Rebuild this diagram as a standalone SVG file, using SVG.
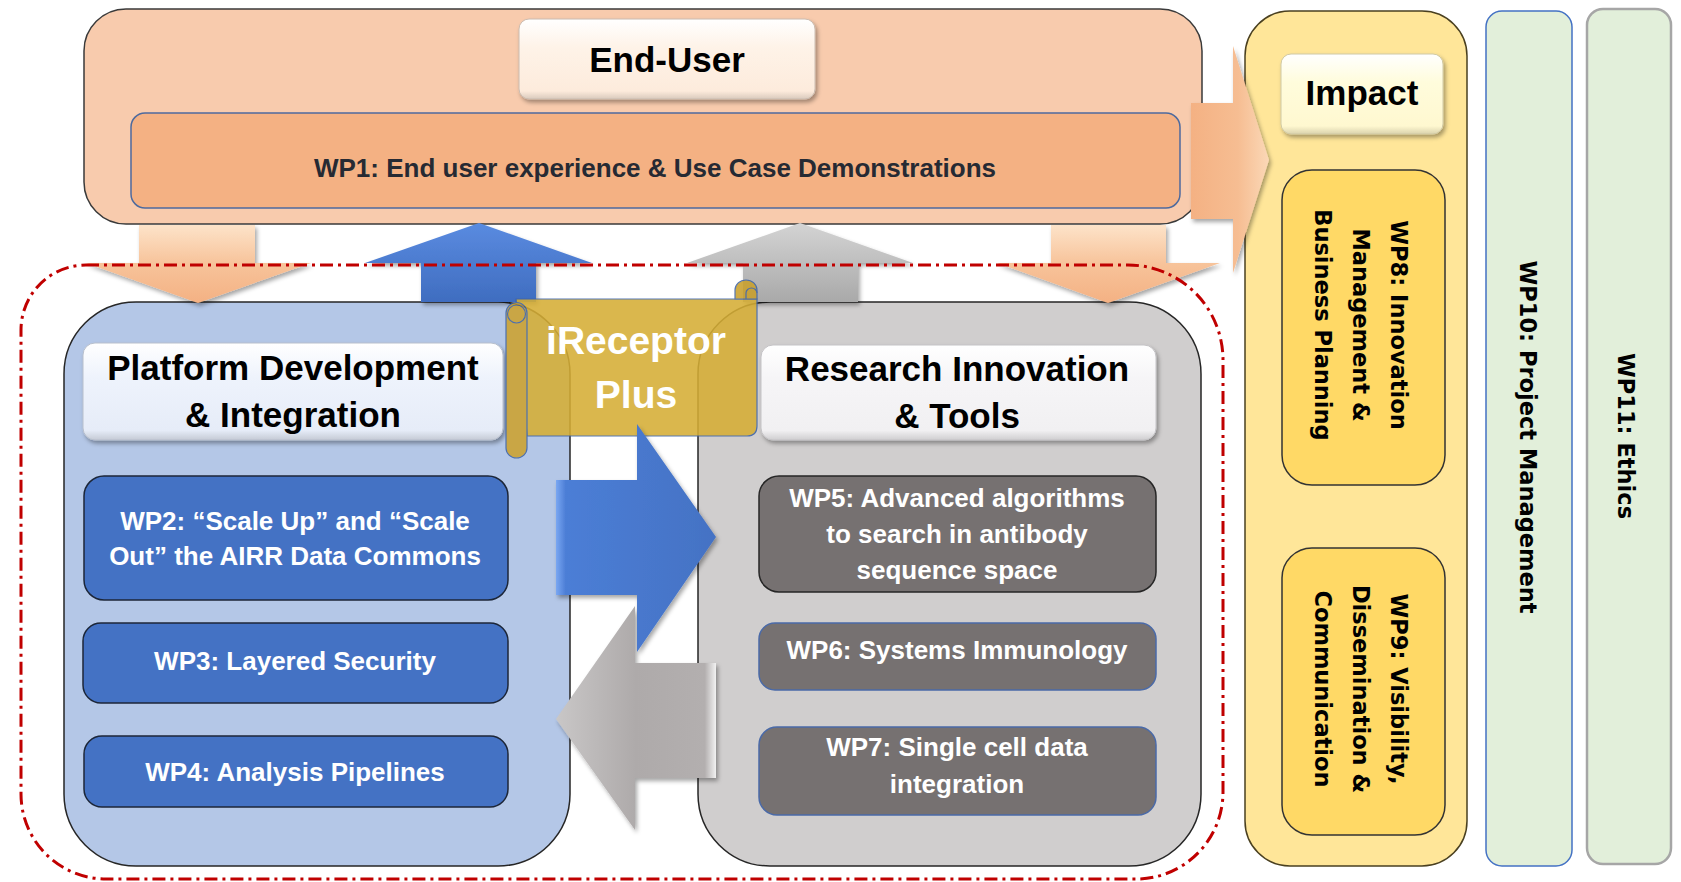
<svg xmlns="http://www.w3.org/2000/svg" width="1681" height="882" viewBox="0 0 1681 882">
<style>
.h{font-family:"Liberation Sans",Arial,sans-serif;font-weight:bold;text-anchor:middle}
.lbl{font-size:35px;fill:#000}
.wp{font-size:26px;fill:#fff}
.v{font-family:"DejaVu Sans",Verdana,sans-serif;font-weight:bold;font-size:22.5px;text-anchor:middle;fill:#000}
.big{stroke:#262626;stroke-width:1.5}
.blue{fill:#4472C4;stroke:#1c2638;stroke-width:1.5}
.gray{fill:#767171;stroke-width:1.5}
.col{fill:#E2EFDA}
.wp89{fill:#FFD966;stroke:#333;stroke-width:1.5}
</style>
<defs>
<filter id="sh" x="-10%" y="-10%" width="125%" height="140%"><feDropShadow dx="2" dy="3" stdDeviation="2" flood-color="#000" flood-opacity="0.35"/></filter>
<linearGradient id="gEU" x1="0" y1="0" x2="0" y2="1"><stop offset="0" stop-color="#ffffff"/><stop offset="0.35" stop-color="#FEF3E8"/><stop offset="0.9" stop-color="#FDEBDC"/><stop offset="1" stop-color="#D9CABD"/></linearGradient>
<linearGradient id="gIM" x1="0" y1="0" x2="0" y2="1"><stop offset="0" stop-color="#ffffff"/><stop offset="0.35" stop-color="#FFFCDC"/><stop offset="0.9" stop-color="#FFF8D0"/><stop offset="1" stop-color="#DAD3AE"/></linearGradient>
<linearGradient id="gPL" x1="0" y1="0" x2="0" y2="1"><stop offset="0" stop-color="#ffffff"/><stop offset="0.35" stop-color="#EEF3FC"/><stop offset="0.9" stop-color="#E6ECF8"/><stop offset="1" stop-color="#C5CAD5"/></linearGradient>
<linearGradient id="gRS" x1="0" y1="0" x2="0" y2="1"><stop offset="0" stop-color="#ffffff"/><stop offset="0.35" stop-color="#F6F5F7"/><stop offset="0.9" stop-color="#F1F0F2"/><stop offset="1" stop-color="#CFCED0"/></linearGradient>
<linearGradient id="gOrV" x1="0" y1="0" x2="0" y2="1"><stop offset="0" stop-color="#FDE3C9"/><stop offset="0.5" stop-color="#F7C39A"/><stop offset="1" stop-color="#F4B183"/></linearGradient>
<linearGradient id="gOrH" x1="0" y1="0" x2="1" y2="0"><stop offset="0" stop-color="#F4B183"/><stop offset="0.6" stop-color="#F6BD92"/><stop offset="1" stop-color="#FBD8B7"/></linearGradient>
<linearGradient id="gBlU" x1="0" y1="0" x2="0" y2="1"><stop offset="0" stop-color="#5A8BE0"/><stop offset="1" stop-color="#3F6DC0"/></linearGradient>
<linearGradient id="gGrU" x1="0" y1="0" x2="0" y2="1"><stop offset="0" stop-color="#D4D4D4"/><stop offset="1" stop-color="#A9A9A9"/></linearGradient>
<linearGradient id="gBlR" x1="0" y1="0" x2="1" y2="0"><stop offset="0" stop-color="#7AA7F2"/><stop offset="0.06" stop-color="#4C7ED6"/><stop offset="1" stop-color="#4472C4"/></linearGradient>
<linearGradient id="gGrL" x1="0" y1="0" x2="1" y2="0"><stop offset="0" stop-color="#C9C7C7"/><stop offset="0.5" stop-color="#AEAAAA"/><stop offset="0.93" stop-color="#B3AFAF"/><stop offset="1" stop-color="#F2F2F2"/></linearGradient>
</defs>

<!-- right columns -->
<g id="impact-panel">
<rect x="1245" y="11" width="222" height="855" rx="45" fill="#FFE699" stroke="#4a4020" stroke-width="1.5"/>
</g>
<g id="wp10">
<rect class="col" x="1486" y="11" width="86" height="855" rx="16" stroke="#4472C4" stroke-width="1.5"/>
<text class="v" transform="translate(1520,437) rotate(90)">WP10: Project Management</text>
</g>
<g id="wp11">
<rect class="col" x="1587" y="9" width="84" height="855" rx="16" stroke="#A6A6A6" stroke-width="2.5"/>
<text class="v" transform="translate(1618,436) rotate(90)">WP11: Ethics</text>
</g>

<!-- top panel -->
<g id="enduser-panel">
<rect x="84" y="9" width="1118" height="215" rx="42" fill="#F8CBAD" stroke="#3a3a3a" stroke-width="1.5"/>
</g>
<g id="end-user">
<rect x="519" y="19" width="296" height="80" rx="10" fill="url(#gEU)" stroke="#cbbcb0" stroke-width="1" filter="url(#sh)"/>
<text class="h lbl" x="667" y="72">End-User</text>
</g>
<g id="wp1">
<rect x="131" y="113" width="1049" height="95" rx="14" fill="#F4B183" stroke="#4D6A9E" stroke-width="1.5"/>
<text class="h" x="655" y="177" font-size="26" fill="#262a33">WP1: End user experience &amp; Use Case Demonstrations</text>
</g>

<!-- main boxes -->
<g id="platform-panel">
<rect class="big" x="64" y="302" width="506" height="564" rx="72" fill="#B4C7E7"/>
</g>
<g id="research-panel">
<rect class="big" x="698" y="302" width="503" height="564" rx="72" fill="#D0CECE"/>
</g>
<g id="platform-label">
<rect x="83" y="343" width="420" height="97" rx="12" fill="url(#gPL)" stroke="#b8bfcc" stroke-width="1" filter="url(#sh)"/>
<text class="h lbl" x="293" y="380">Platform Development</text>
<text class="h lbl" x="293" y="427">&amp; Integration</text>
</g>
<g id="research-label">
<rect x="761" y="345" width="395" height="95" rx="12" fill="url(#gRS)" stroke="#c4c3c6" stroke-width="1" filter="url(#sh)"/>
<text class="h lbl" x="957" y="381">Research Innovation</text>
<text class="h lbl" x="957" y="428">&amp; Tools</text>
</g>
<g id="wp2">
<rect class="blue" x="84" y="476" width="424" height="124" rx="20"/>
<text class="h wp" x="295" y="530">WP2: “Scale Up” and “Scale</text>
<text class="h wp" x="295" y="565">Out” the AIRR Data Commons</text>
</g>
<g id="wp3">
<rect class="blue" x="83" y="623" width="425" height="80" rx="18"/>
<text class="h wp" x="295" y="670">WP3: Layered Security</text>
</g>
<g id="wp4">
<rect class="blue" x="84" y="736" width="424" height="71" rx="18"/>
<text class="h wp" x="295" y="781">WP4: Analysis Pipelines</text>
</g>
<g id="wp5">
<rect class="gray" x="759" y="476" width="397" height="116" rx="20" stroke="#262626"/>
<text class="h wp" x="957" y="507">WP5: Advanced algorithms</text>
<text class="h wp" x="957" y="543">to search in antibody</text>
<text class="h wp" x="957" y="579">sequence space</text>
</g>
<g id="wp6">
<rect class="gray" x="759" y="623" width="397" height="67" rx="16" stroke="#4a6aa8"/>
<text class="h wp" x="957" y="659">WP6: Systems Immunology</text>
</g>
<g id="wp7">
<rect class="gray" x="759" y="727" width="397" height="88" rx="18" stroke="#4a6aa8"/>
<text class="h wp" x="957" y="756">WP7: Single cell data</text>
<text class="h wp" x="957" y="793">integration</text>
</g>

<!-- impact column content -->
<g id="impact">
<rect x="1281" y="54" width="162" height="80" rx="10" fill="url(#gIM)" stroke="#d0c9a4" stroke-width="1" filter="url(#sh)"/>
<text class="h lbl" x="1362" y="105">Impact</text>
</g>
<g id="wp8">
<rect class="wp89" x="1282" y="170" width="163" height="315" rx="30"/>
<text class="v" transform="translate(1391,325) rotate(90)">WP8: Innovation</text>
<text class="v" transform="translate(1353,325) rotate(90)">Management &amp;</text>
<text class="v" transform="translate(1315,325) rotate(90)">Business Planning</text>
</g>
<g id="wp9">
<rect class="wp89" x="1282" y="548" width="163" height="287" rx="30"/>
<text class="v" transform="translate(1391,689) rotate(90)">WP9: Visibility,</text>
<text class="v" transform="translate(1353,689) rotate(90)">Dissemination &amp;</text>
<text class="v" transform="translate(1315,689) rotate(90)">Communication</text>
</g>

<!-- connectors (block arrows) -->
<g id="connectors" filter="url(#sh)">
<polygon points="139,225 255,225 255,263 311,263 198,303 86,263 139,263" fill="url(#gOrV)"/>
<polygon points="1051,225 1166,225 1166,263 1220,263 1108,303 997,263 1051,263" fill="url(#gOrV)"/>
<polygon points="479,223 592,263 536,263 536,302 421,302 421,263 365,263" fill="url(#gBlU)"/>
<polygon points="800,223 913,263 858,263 858,302 743,302 743,263 687,263" fill="url(#gGrU)"/>
<polygon points="1191,103 1233,103 1233,46 1269,160 1233,273 1233,219 1191,219" fill="url(#gOrH)"/>
</g>

<!-- iReceptor Plus scroll -->
<g id="ireceptor">
<g opacity="0.88" stroke="#3E64A8" stroke-width="1.2">
<path d="M516 299 H757 V426 Q757 436 747 436 H527 Z" fill="#D6AE35"/>
<path d="M735 299 V290 A11 10 0 0 1 757 290 V299 Z" fill="#C9A02C"/>
<path d="M746 299 V293 A5.5 5 0 0 1 757 293" fill="none"/>
<path d="M506 313 A10.5 10.5 0 0 1 527 313 V448 A10.5 10 0 0 1 506 448 Z" fill="#CDA22F"/>
<circle cx="516.5" cy="314" r="9" fill="none"/>
</g>
<text class="h" x="636" y="354" font-size="39" fill="#fff">iReceptor</text>
<text class="h" x="636" y="408" font-size="39" fill="#fff">Plus</text>
</g>

<g id="connectors-mid" filter="url(#sh)">
<polygon points="716,663 635,663 635,606 556,719 635,830 635,778 716,778" fill="url(#gGrL)"/>
<polygon points="556,480 637,480 637,424 716,537 637,652 637,595 556,595" fill="url(#gBlR)"/>
</g>

<!-- dashed boundary -->
<path id="boundary" d="M86 265 H1128 A95 95 0 0 1 1223 360 V792 A87 87 0 0 1 1136 879 H106 A85 85 0 0 1 21 794 V330 A65 65 0 0 1 86 265 Z" fill="none" stroke="#C00000" stroke-width="3" stroke-dasharray="13 5 3 5"/>
</svg>
